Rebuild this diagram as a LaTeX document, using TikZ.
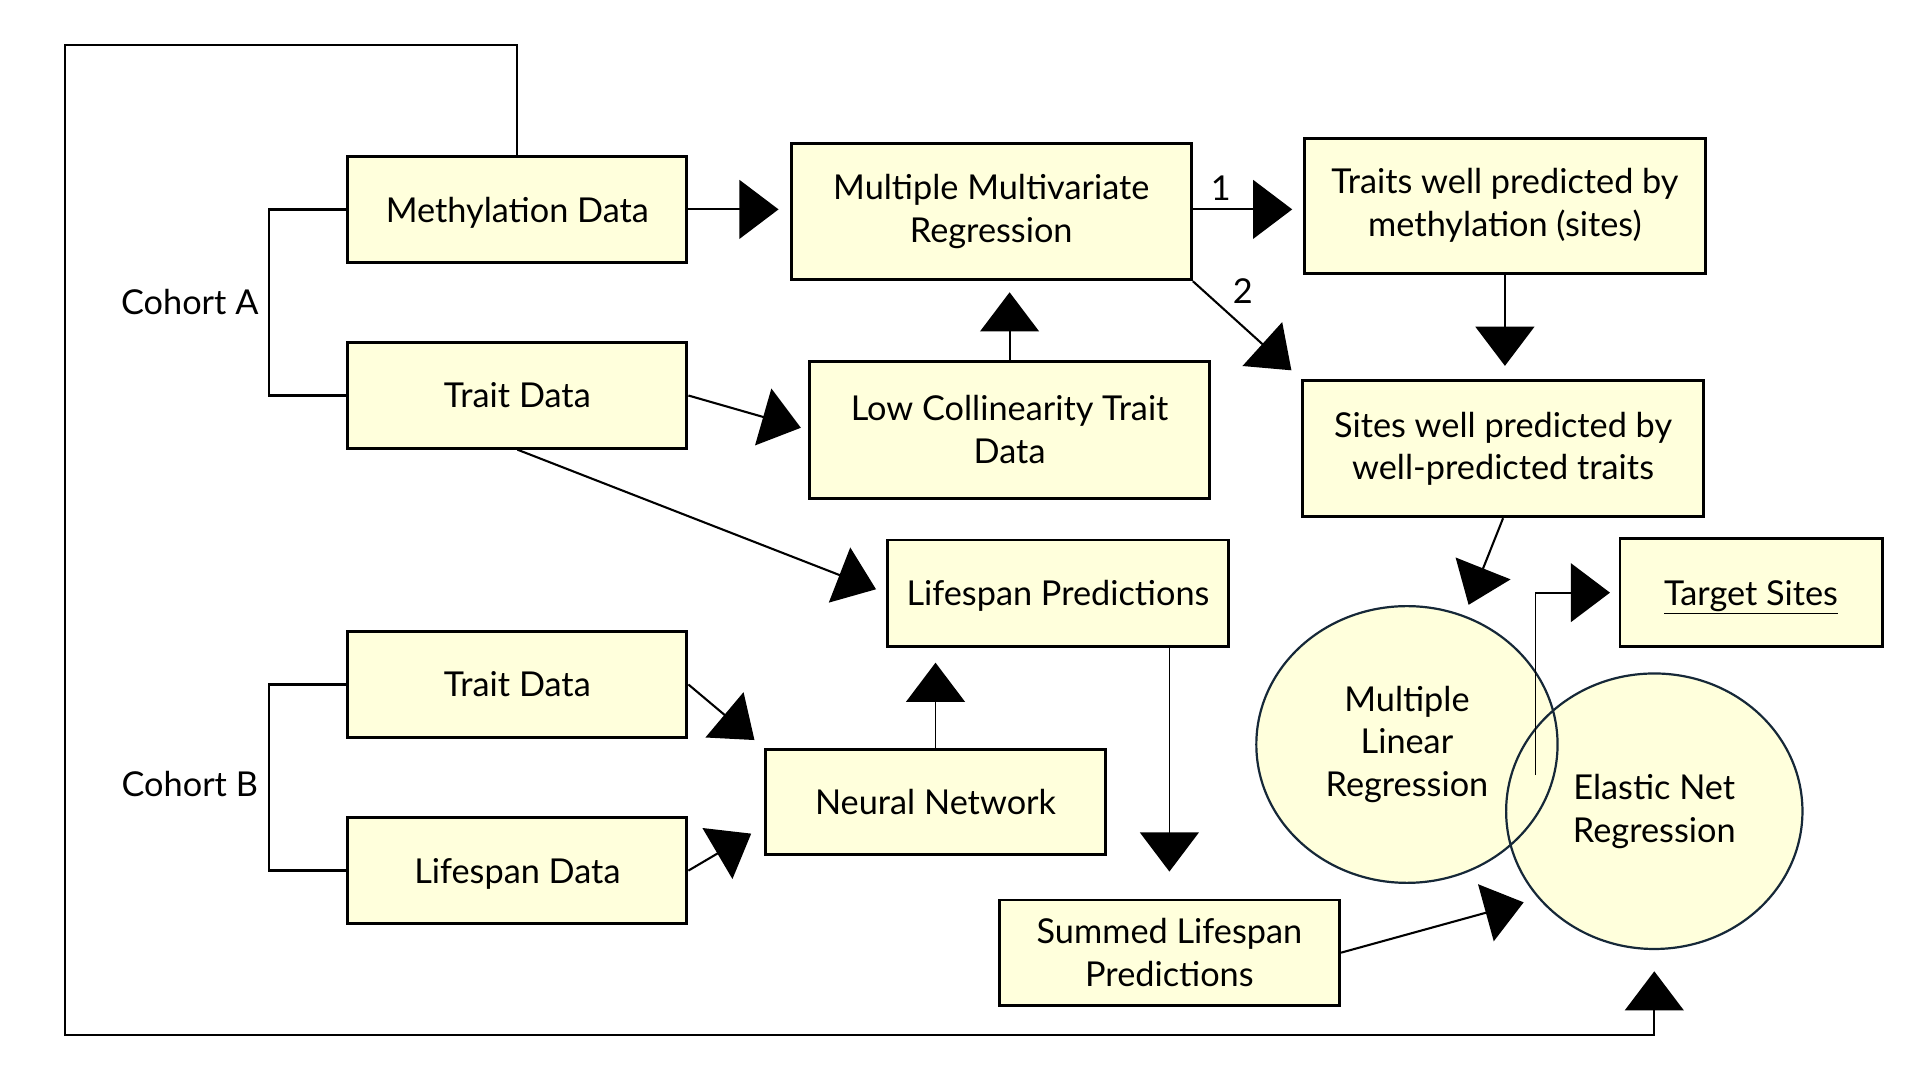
\documentclass[tikz,border=0pt]{standalone}
\usepackage{fontspec}
\setmainfont{Lato}
\usepackage{tikz}
\usetikzlibrary{arrows.meta,shapes.geometric}
\definecolor{boxfill}{RGB}{255,255,220}
\definecolor{rimcol}{RGB}{22,40,56}

\begin{document}
\begin{tikzpicture}[x=1pt,y=-1pt,
		font=\fontsize{28}{35}\selectfont,
		databox/.style={draw,fill=boxfill,line width=2.4pt,align=center,inner sep=0pt,minimum width=277pt,minimum height=86pt},
		bigbox/.style={databox,minimum width=327pt,minimum height=111pt},
		oneline/.style={text depth=0pt},
		method/.style={ellipse,fill=boxfill,align=center,inner sep=0pt,minimum width=246pt,minimum height=226pt},
		flow/.style={line width=1.7pt,-{Triangle[length=32pt,width=48pt]}},
		link/.style={line width=1.9pt}]
	\useasboundingbox (0,0) rectangle (1568,882);

	\node[databox,oneline] (meth) at (422.5,171) {Methylation Data};
	\node[databox] (traita) at (422.5,323) {Trait Data};
	\node[databox] (traitb) at (422.5,559) {Trait Data};
	\node[databox,oneline] (lifedata) at (422.5,711) {Lifespan Data};
	\node (cohorta) at (155,247) {Cohort A};
	\node (cohortb) at (155,640) {Cohort B};

	\node[bigbox] (mmr) at (809.5,173) {Multiple Multivariate\\Regression};
	\node[bigbox,minimum height=110pt] (traitsw) at (1229,168) {Traits well predicted by\\methylation (sites)};
	\node[bigbox,minimum height=112pt] (lowcol) at (824.5,351) {Low Collinearity Trait\\Data};
	\node[bigbox] (sitesw) at (1227.5,366.5) {Sites well predicted by\\well-predicted traits};

	\node[databox,oneline,minimum width=278pt,minimum height=87pt] (lpred) at (864,484.5) {Lifespan Predictions};
	\node[databox,minimum width=278pt] (nn) at (764,655) {Neural Network};
	\node[databox,minimum width=278pt] (summ) at (955,778) {Summed Lifespan\\Predictions};
	\node[databox,oneline,minimum width=214pt,minimum height=88pt] (target) at (1430,484) {\underline{Target Sites}};

	\node[method] (mlr) at (1149,608) {Multiple\\Linear\\Regression};
	\node[method,minimum width=242pt,minimum height=225pt] (enr) at (1351,662.5) {Elastic Net\\Regression};
	\draw[rimcol,line width=1.8pt] (mlr.center) ellipse [x radius=123, y radius=113]
		(enr.center) ellipse [x radius=121, y radius=112.5];

	\node (lab1) at (997,154) {1};
	\node (lab2) at (1015,238) {2};

	\draw[link] (meth.west) -- ++(-63,0) |- (traita.west);
	\draw[link] (traitb.west) -- ++(-63,0) |- (lifedata.west);

	\draw[flow,shorten >=9pt] (meth.east) -- (mmr.west |- meth.east);
	\draw[flow,shorten >=9pt] (mmr.east |- meth.east) -- (traitsw.west |- meth.east);
	\draw[flow,shorten >=11pt] (mmr.south east) -- (sitesw.north west);
	\draw[flow,shorten >=11pt] (traitsw.south) -- (traitsw.south |- sitesw.north);
	\draw[flow,shorten >=9pt] (lowcol.north) -- (lowcol.north |- mmr.south);
	\draw[flow,shorten >=6pt] (traita.east) -- (lowcol.west);
	\draw[flow,shorten >=9pt] (traita.south) -- (lpred.west);
	\draw[flow,shorten >=10pt] (traitb.east) -- (nn.north west);
	\draw[flow,shorten >=12pt] (lifedata.east) -- (nn.188);
	\draw[flow,line width=1.4pt,shorten >=12pt] (nn.north) -- (nn.north |- lpred.south);
	\draw[flow,line width=1.4pt,shorten >=22pt] (lpred.south -| summ.north) -- (summ.north);
	\draw[flow,shorten >=13pt] (summ.east) -- (enr.217);
	\draw[flow,shorten >=10pt] (sitesw.south) -- (mlr.66);

	\coordinate (tstart) at (1254,633);
	\draw[flow,line width=1.5pt,shorten >=7pt] (tstart) |- (target.west);

	\draw[flow,shorten >=18pt] (meth.north) -- (meth.north |- 0,37) -| (53,845) -| (enr.south);
\end{tikzpicture}
\end{document}
